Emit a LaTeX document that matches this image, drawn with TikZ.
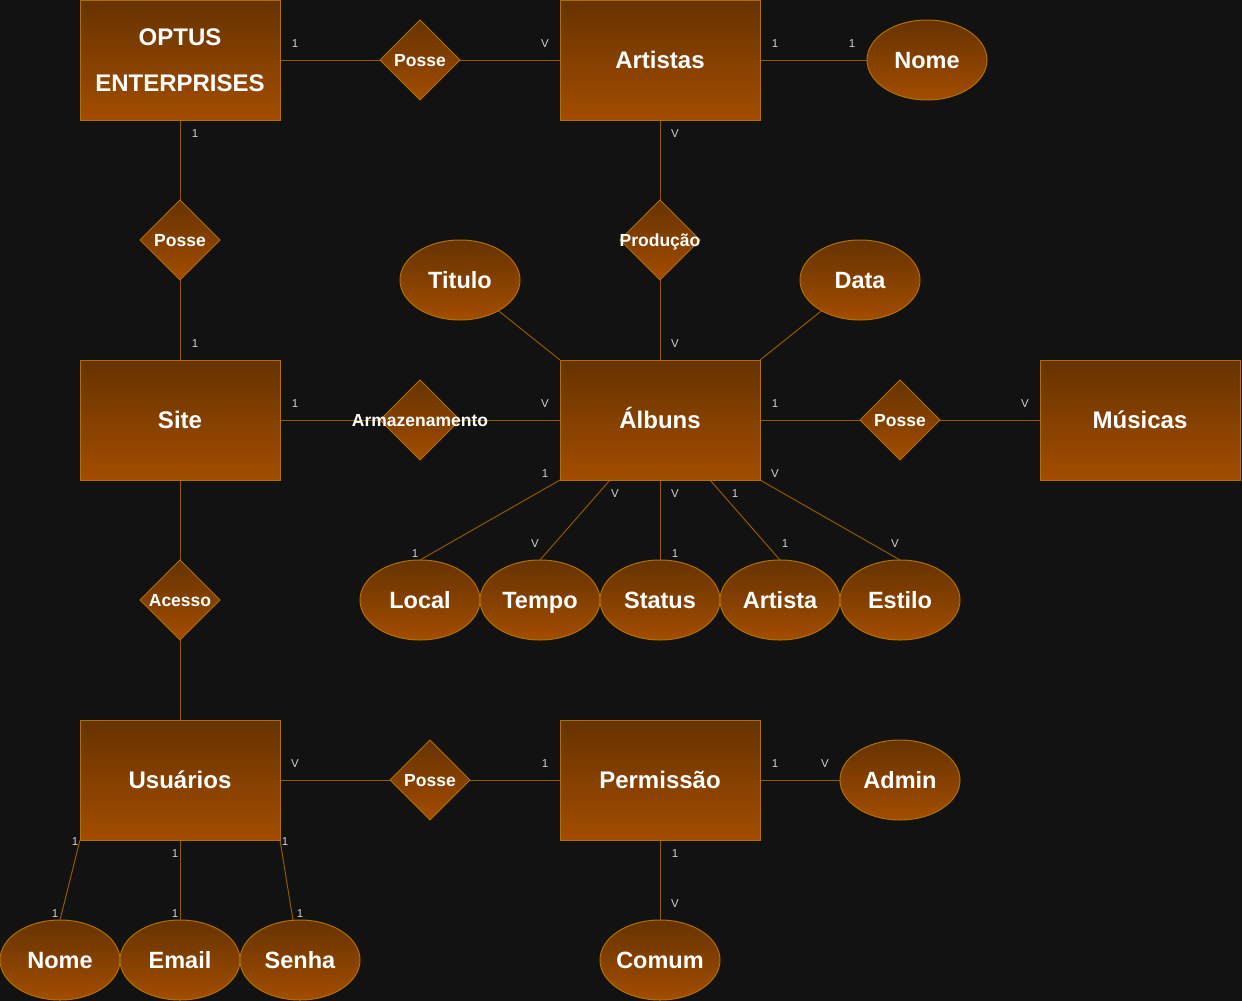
\documentclass[tikz,border=0pt]{standalone}
\usepackage{fontspec}
\setmainfont{Liberation Sans}
\usetikzlibrary{shapes.geometric,calc,backgrounds}
\definecolor{bgc}{HTML}{121212}
\definecolor{ftop}{HTML}{663300}
\definecolor{fbot}{HTML}{A34D00}
\definecolor{strk}{HTML}{B07000}
\definecolor{lnc}{HTML}{8F5A00}
\definecolor{lblc}{HTML}{D0D0D0}
\begin{document}
\begin{tikzpicture}[x=1pt,y=-1pt,
  entbase/.style={rectangle,draw=strk,line width=1pt,top color=ftop,bottom color=fbot,minimum width=200pt,minimum height=120pt,inner sep=0pt,outer sep=0pt,font=\bfseries\fontsize{24}{46}\selectfont,text=white,align=center},
  ent/.style={entbase,text height=17.2pt,text depth=0pt},
  attr/.style={ellipse,draw=strk,line width=1pt,top color=ftop,bottom color=fbot,minimum width=120pt,minimum height=80pt,inner xsep=-8pt,inner ysep=0pt,outer sep=0pt,font=\bfseries\fontsize{23.5}{26}\selectfont,text=white,text height=16.8pt,text depth=0pt},
  rel/.style={diamond,draw=strk,line width=1pt,top color=ftop,bottom color=fbot,minimum width=80pt,minimum height=80pt,inner sep=0pt,outer sep=0pt},
  reltext/.style={font=\bfseries\fontsize{17.5}{20}\selectfont,text=white,text height=12.5pt,text depth=0pt},
  conn/.style={draw=lnc,line width=1pt},
  card/.style={font=\fontsize{11.5}{13}\selectfont,text=lblc,inner sep=0pt}]
\begin{scope}[on background layer]
\fill[bgc] (0,0) rectangle (1242,1001);
\end{scope}
\useasboundingbox (0,0) rectangle (1242,1001);

% entities
\node[entbase] (optus) at (180,60) {OPTUS\\ENTERPRISES};
\node[ent] (art) at (660,60) {Artistas};
\node[ent] (site) at (180,420) {Site};
\node[ent] (alb) at (660,420) {Álbuns};
\node[ent] (mus) at (1140,420) {Músicas};
\node[ent] (usr) at (180,780) {Usuários};
\node[ent] (perm) at (660,780) {Permissão};

% attributes
\node[attr] (nomeA) at (927,60) {Nome};
\node[attr] (tit) at (460,280) {Titulo};
\node[attr] (dat) at (860,280) {Data};
\node[attr] (loc) at (420,600) {Local};
\node[attr] (tem) at (540,600) {Tempo};
\node[attr] (sta) at (660,600) {Status};
\node[attr] (arta) at (780,600) {Artista};
\node[attr] (est) at (900,600) {Estilo};
\node[attr] (adm) at (900,780) {Admin};
\node[attr] (com) at (660,960) {Comum};
\node[attr] (nomU) at (60,960) {Nome};
\node[attr] (ema) at (180,960) {Email};
\node[attr] (sen) at (300,960) {Senha};

% relationships
\node[rel,label={[reltext]center:Posse}] (r1) at (420,60) {};
\node[rel,label={[reltext]center:Posse}] (r2) at (180,240) {};
\node[rel,label={[reltext]center:Produção}] (r3) at (660,240) {};
\node[rel,label={[reltext]center:Armazenamento}] (r4) at (420,420) {};
\node[rel,label={[reltext]center:Posse}] (r5) at (900,420) {};
\node[rel,label={[reltext]center:Acesso}] (r6) at (180,600) {};
\node[rel,label={[reltext]center:Posse}] (r7) at (430,780) {};

% anchor points on Álbuns bottom
\coordinate (ab2) at ($(alb.south west)!0.25!(alb.south east)$);
\coordinate (ab4) at ($(alb.south west)!0.75!(alb.south east)$);

\begin{scope}[on background layer]
\draw[conn] (optus) -- (r1);
\draw[conn] (r1) -- (art);
\draw[conn] (art) -- (nomeA);
\draw[conn] (optus) -- (r2);
\draw[conn] (r2) -- (site);
\draw[conn] (art) -- (r3);
\draw[conn] (r3) -- (alb);
\draw[conn] (alb.north west) -- (tit);
\draw[conn] (alb.north east) -- (dat);
\draw[conn] (site) -- (r4);
\draw[conn] (r4) -- (alb);
\draw[conn] (alb) -- (r5);
\draw[conn] (r5) -- (mus);
\draw[conn] (alb.south west) -- (loc.north);
\draw[conn] (ab2) -- (tem.north);
\draw[conn] (alb.south) -- (sta.north);
\draw[conn] (ab4) -- (arta.north);
\draw[conn] (alb.south east) -- (est.north);
\draw[conn] (site) -- (r6);
\draw[conn] (r6) -- (usr);
\draw[conn] (usr) -- (r7);
\draw[conn] (r7) -- (perm);
\draw[conn] (perm) -- (adm);
\draw[conn] (perm) -- (com);
\draw[conn] (usr.south west) -- (nomU.north);
\draw[conn] (usr.south) -- (ema.north);
\draw[conn] (usr.south east) -- (sen.100);
\end{scope}

% cardinalities
\node[card] (k1) at (295,44) {1};
\node[card] (k2) at (545,44) {V};
\node[card] (k3) at (775,44) {1};
\node[card] (k4) at (852,44) {1};
\node[card] (k5) at (195,134) {1};
\node[card] (k6) at (195,344) {1};
\node[card] (k7) at (675,134) {V};
\node[card] (k8) at (675,344) {V};
\node[card] (k9) at (295,404) {1};
\node[card] (k10) at (545,404) {V};
\node[card] (k11) at (775,404) {1};
\node[card] (k12) at (1025,404) {V};
\node[card] (k13) at (545,474) {1};
\node[card] (k14) at (415,554) {1};
\node[card] (k15) at (615,494) {V};
\node[card] (k16) at (535,544) {V};
\node[card] (k17) at (675,494) {V};
\node[card] (k18) at (675,554) {1};
\node[card] (k19) at (735,494) {1};
\node[card] (k20) at (785,544) {1};
\node[card] (k21) at (775,474) {V};
\node[card] (k22) at (895,544) {V};
\node[card] (k23) at (295,764) {V};
\node[card] (k24) at (545,764) {1};
\node[card] (k25) at (775,764) {1};
\node[card] (k26) at (825,764) {V};
\node[card] (k27) at (675,854) {1};
\node[card] (k28) at (675,904) {V};
\node[card] (k29) at (75,842) {1};
\node[card] (k30) at (55,914) {1};
\node[card] (k31) at (175,854) {1};
\node[card] (k32) at (175,914) {1};
\node[card] (k33) at (285,842) {1};
\node[card] (k34) at (300,914) {1};
\end{tikzpicture}
\end{document}
